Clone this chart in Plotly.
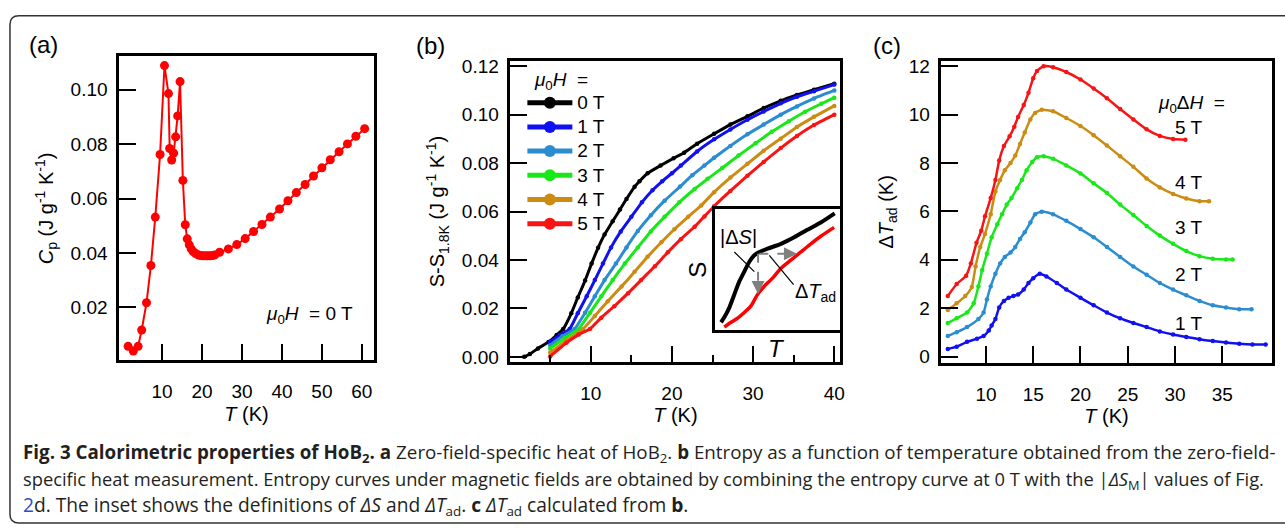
import plotly.graph_objects as go

W, H = 1285, 531
def PX(x): return x / W
def PY(y): return 1 - y / H

FONT = "Liberation Sans, Arial, sans-serif"

# ---------------- data: panel (a) ----------------
a_T = [1.5, 2.8, 4.0, 4.9, 6.1, 7.2, 8.3, 9.5, 10.6, 11.6, 11.9, 12.4, 12.9, 13.4, 13.9, 14.5,
       15.2, 15.8, 16.3, 16.8, 17.3, 17.8, 18.4, 19.0, 19.6, 20.2, 20.8, 21.4, 22.0, 22.6,
       23.2, 24.4, 26.6, 28.7, 30.8, 32.9, 35.0, 37.1, 39.4, 41.5, 43.6, 45.8, 47.9, 50.0,
       52.1, 54.3, 56.4, 58.5, 60.7]
a_Cp = [0.0057, 0.0040, 0.0057, 0.0117, 0.0217, 0.0354, 0.0532, 0.0762, 0.1089, 0.0986, 0.0784,
        0.0742, 0.0767, 0.0827, 0.0904, 0.1030, 0.0667, 0.0504, 0.0452, 0.0430, 0.0415, 0.0405,
        0.0398, 0.0393, 0.0391, 0.0390, 0.0390, 0.0390, 0.0390, 0.0391, 0.0393, 0.0403, 0.0415,
        0.0431, 0.0453, 0.0479, 0.0505, 0.0532, 0.0562, 0.0592, 0.0622, 0.0652, 0.0683, 0.0713,
        0.0743, 0.0772, 0.0801, 0.0829, 0.0857]

# ---------------- data: panel (b) ----------------
b_labels = ["0 T", "1 T", "2 T", "3 T", "4 T", "5 T"]
b_T0 = [1.8, 2.5, 3.5, 4.8, 5.8, 6.6, 7.6, 8.4, 9.3, 10.1, 10.9, 11.7, 12.7, 13.6, 14.4, 15.4,
        16.0, 17.0, 18.6, 20.2, 21.5, 23.1, 25.2, 27.2, 29.3, 31.3, 33.4, 35.4, 37.5, 40.0]
b_S0 = [0.0, 0.0012, 0.0035, 0.0061, 0.0090, 0.0115, 0.0180, 0.0245, 0.0315, 0.0385, 0.0450,
        0.0505, 0.0560, 0.0608, 0.0652, 0.0702, 0.0725, 0.0758, 0.0790, 0.0820, 0.0843, 0.0880,
        0.0921, 0.0959, 0.0993, 0.1027, 0.1057, 0.1081, 0.1103, 0.1128]
b_T1 = [5.0, 6.2, 7.4, 8.4, 9.5, 10.5, 11.5, 12.5, 13.7, 15.0, 16.3, 17.6, 18.8, 20.0, 21.1, 23.1,
        25.2, 27.2, 29.3, 31.3, 33.4, 35.4, 37.5, 40.0]
b_S1 = [0.0062, 0.0090, 0.0115, 0.0180, 0.0250, 0.0317, 0.0385, 0.0452, 0.0518, 0.0578, 0.0638,
        0.0688, 0.0725, 0.0758, 0.0790, 0.0848, 0.0898, 0.0939, 0.0979, 0.1013, 0.1047, 0.1074,
        0.1097, 0.1124]
b_T2 = [5.0, 6.5, 8.0, 9.3, 10.5, 11.7, 13.1, 14.4, 15.8, 17.4, 19.1, 21.0, 22.5, 24.0, 25.2, 27.2,
        29.3, 31.3, 33.4, 35.4, 37.5, 40.0]
b_S2 = [0.0048, 0.0085, 0.0115, 0.0182, 0.0250, 0.0317, 0.0385, 0.0452, 0.0520, 0.0585, 0.0645,
        0.0703, 0.0750, 0.0790, 0.0822, 0.0871, 0.0919, 0.0959, 0.1000, 0.1034, 0.1067, 0.1100]
b_T3 = [5.0, 6.8, 8.5, 9.9, 11.3, 12.7, 14.2, 15.8, 17.4, 19.1, 20.9, 22.8, 24.4, 26.2, 28.2, 30.3,
        32.3, 34.4, 36.4, 38.4, 40.0]
b_S3 = [0.0035, 0.0078, 0.0115, 0.0182, 0.0250, 0.0317, 0.0385, 0.0452, 0.0518, 0.0578, 0.0638,
        0.0693, 0.0735, 0.0780, 0.0831, 0.0882, 0.0929, 0.0973, 0.1012, 0.1045, 0.1070]
b_T4 = [5.0, 7.0, 9.05, 10.5, 12.1, 13.8, 15.4, 17.0, 18.7, 20.3, 22.0, 23.6, 25.2, 27.2, 29.3,
        31.3, 33.4, 35.4, 37.5, 40.0]
b_S4 = [0.0018, 0.0068, 0.0115, 0.0169, 0.0230, 0.0291, 0.0351, 0.0413, 0.0473, 0.0527, 0.0578,
        0.0625, 0.0680, 0.0740, 0.0797, 0.0851, 0.0901, 0.0949, 0.0991, 0.1036]
b_T5 = [5.0, 7.0, 8.5, 9.9, 11.3, 12.9, 14.6, 16.2, 17.9, 19.5, 21.1, 22.8, 24.0, 25.2, 27.2, 29.3,
        31.3, 33.4, 35.4, 37.5, 40.0]
b_S5 = [0.0002, 0.0058, 0.0092, 0.0115, 0.0162, 0.0209, 0.0263, 0.0317, 0.0374, 0.0432, 0.0486,
        0.0537, 0.0580, 0.0622, 0.0685, 0.0748, 0.0805, 0.0862, 0.0912, 0.0957, 0.1000]

# inset (schematic, arbitrary units)
in_T_black = [0.048, 0.074, 0.114, 0.154, 0.194, 0.234, 0.274, 0.314, 0.354, 0.420, 0.527, 0.633,
              0.739, 0.846, 0.957]
in_S_black = [0.067, 0.108, 0.188, 0.296, 0.403, 0.484, 0.565, 0.618, 0.645, 0.672, 0.712, 0.766,
              0.828, 0.887, 0.962]
in_T_red = [0.074, 0.128, 0.181, 0.234, 0.287, 0.340, 0.394, 0.460, 0.527, 0.606, 0.686, 0.766,
            0.846, 0.952]
in_S_red = [0.027, 0.067, 0.102, 0.148, 0.202, 0.296, 0.363, 0.430, 0.511, 0.578, 0.645, 0.712,
            0.774, 0.847]

# ---------------- data: panel (c) ----------------
c_labels = ["1 T", "2 T", "3 T", "4 T", "5 T"]
c_T1 = [5.96, 6.9, 8.0, 9.05, 9.75, 10.3, 10.6, 11.0, 11.4, 11.9, 12.4, 12.9, 13.4, 14.0, 14.5, 15.0,
        15.7, 16.4, 17.5, 18.5, 20.0, 21.4, 22.8, 24.2, 25.6, 27.0, 28.4, 29.8, 31.2, 32.6, 34.0,
        35.4, 36.8, 38.2, 39.6]
c_D1 = [0.31, 0.41, 0.61, 0.74, 0.85, 1.08, 1.28, 1.55, 2.03, 2.30, 2.43, 2.50, 2.57, 2.77, 3.04,
        3.24, 3.42, 3.31, 3.04, 2.77, 2.43, 2.12, 1.82, 1.58, 1.39, 1.22, 1.04, 0.91, 0.81, 0.72,
        0.64, 0.58, 0.53, 0.50, 0.50]
c_T2 = [5.96, 6.9, 8.0, 9.2, 9.75, 10.1, 10.5, 11.0, 11.5, 12.0, 12.6, 13.1, 13.6, 14.1, 14.7, 15.2,
        15.9, 17.1, 18.5, 20.0, 21.4, 22.8, 24.2, 25.6, 27.0, 28.4, 29.8, 31.2, 32.6, 34.0, 35.4,
        36.8, 38.1]
c_D2 = [0.85, 1.01, 1.22, 1.55, 1.82, 2.36, 2.90, 3.42, 3.85, 4.12, 4.30, 4.53, 4.86, 5.14, 5.54,
        5.88, 5.99, 5.88, 5.61, 5.27, 4.93, 4.53, 4.12, 3.72, 3.38, 3.04, 2.77, 2.53, 2.30, 2.12,
        2.03, 1.96, 1.96]
c_T3 = [5.96, 6.9, 8.0, 8.7, 9.2, 9.6, 10.1, 10.6, 11.2, 11.7, 12.2, 12.7, 13.3, 13.8, 14.3, 14.9,
        15.4, 16.1, 17.1, 18.5, 20.0, 21.4, 22.8, 24.2, 25.6, 27.0, 28.4, 29.8, 31.2, 32.6, 34.0,
        35.4, 36.1]
c_D3 = [1.39, 1.58, 1.82, 2.20, 2.90, 3.58, 4.25, 4.93, 5.47, 5.88, 6.28, 6.55, 6.96, 7.30, 7.70,
        8.04, 8.24, 8.28, 8.18, 7.90, 7.57, 7.16, 6.76, 6.28, 5.85, 5.40, 5.00, 4.66, 4.36, 4.15,
        4.04, 4.01, 4.01]
c_T4 = [5.96, 6.9, 7.8, 8.5, 8.9, 9.4, 9.9, 10.5, 11.0, 11.5, 12.0, 12.6, 13.1, 13.6, 14.1, 14.7,
        15.2, 15.9, 17.1, 18.5, 20.0, 21.4, 22.8, 24.2, 25.6, 27.0, 28.4, 29.8, 31.2, 32.6, 33.6]
c_D4 = [1.93, 2.20, 2.50, 2.88, 3.72, 4.53, 5.07, 5.88, 6.82, 7.30, 7.70, 8.00, 8.31, 8.78, 9.26,
        9.80, 10.07, 10.20, 10.14, 9.86, 9.53, 9.15, 8.72, 8.28, 7.84, 7.36, 6.99, 6.72, 6.53,
        6.42, 6.42]
c_T5 = [5.96, 6.9, 7.9, 8.4, 9.0, 9.5, 9.9, 10.5, 11.0, 11.4, 11.9, 12.5, 13.0, 13.4, 14.0, 14.5,
        15.0, 15.4, 16.1, 17.1, 18.5, 20.0, 21.4, 22.8, 24.2, 25.6, 27.0, 28.4, 29.8, 31.1]
c_D5 = [2.50, 3.00, 3.34, 3.85, 4.70, 5.20, 5.80, 6.55, 7.30, 8.10, 8.70, 9.10, 9.50, 9.90, 10.40,
        10.90, 11.50, 11.80, 12.00, 11.96, 11.76, 11.45, 11.08, 10.68, 10.23, 9.80, 9.39, 9.12,
        8.99, 8.96]

COLORS = ["#000000", "#1010f0", "#2b8dd0", "#18e818", "#cc8c14", "#f81414"]

# ---------------- figure ----------------
fig = go.Figure()

fig.add_trace(go.Scatter(x=a_T, y=a_Cp, mode="lines+markers", xaxis="x", yaxis="y",
                         line=dict(color="#ff0000", width=2),
                         marker=dict(color="#ff0000", size=9), showlegend=False))

b_T = [b_T0, b_T1, b_T2, b_T3, b_T4, b_T5]
b_S = [b_S0, b_S1, b_S2, b_S3, b_S4, b_S5]
for i in range(6):
    fig.add_trace(go.Scatter(x=b_T[i], y=b_S[i], mode="lines+markers",
                             name="<span style='font-size:19px'>%s</span>" % b_labels[i],
                             xaxis="x2", yaxis="y2",
                             line=dict(color=COLORS[i], width=3, shape="spline", smoothing=0.4),
                             marker=dict(color=COLORS[i], size=4.5), showlegend=True))

fig.add_trace(go.Scatter(x=in_T_black, y=in_S_black, mode="lines", xaxis="x4", yaxis="y4",
                         line=dict(color="#000000", width=4, shape="spline", smoothing=0.5),
                         showlegend=False))
fig.add_trace(go.Scatter(x=in_T_red, y=in_S_red, mode="lines", xaxis="x4", yaxis="y4",
                         line=dict(color="#ff0000", width=3.5, shape="spline", smoothing=0.5),
                         showlegend=False))

c_T = [c_T1, c_T2, c_T3, c_T4, c_T5]
c_D = [c_D1, c_D2, c_D3, c_D4, c_D5]
for i in range(5):
    fig.add_trace(go.Scatter(x=c_T[i], y=c_D[i], mode="lines+markers", name=c_labels[i],
                             xaxis="x3", yaxis="y3",
                             line=dict(color=COLORS[i + 1], width=2.5, shape="spline", smoothing=0.5),
                             marker=dict(color=COLORS[i + 1], size=4.5), showlegend=False))

axis_common = dict(showline=True, linecolor="black", linewidth=2.5, mirror=True,
                   ticks="inside", tickwidth=2, tickcolor="black", ticklen=17,
                   showgrid=False, zeroline=False,
                   tickfont=dict(family=FONT, size=19, color="black"))

xt = dict(text="<i>T</i> (K)", font=dict(family=FONT, size=20, color="black"), standoff=6)

fig.update_layout(
    width=W, height=H,
    margin=dict(l=0, r=0, t=0, b=0, pad=0),
    paper_bgcolor="white", plot_bgcolor="white",
    font=dict(family=FONT, size=19, color="black"),
    xaxis=dict(axis_common, domain=[PX(119.5), PX(375)], anchor="y", range=[-0.75, 63.0],
               tickvals=[10, 20, 30, 40, 50, 60], ticklabelstandoff=12, title=xt),
    yaxis=dict(axis_common, domain=[PY(362.3), PY(52.3)], anchor="x", range=[0.0005, 0.1123],
               tickvals=[0.02, 0.04, 0.06, 0.08, 0.10], tickformat=".2f", ticklabelstandoff=5,
               title=dict(text="<i>C</i><sub>p</sub> (J g<sup>-1</sup> K<sup>-1</sup>)",
                          font=dict(family=FONT, size=20, color="black"), standoff=12)),
    xaxis2=dict(axis_common, domain=[PX(512), PX(843)], anchor="y2", range=[0.1, 40.75],
                tickvals=[10, 20, 30, 40], ticklabelstandoff=12, title=xt,
                minor=dict(tickvals=[5, 15, 25, 35], ticks="inside", ticklen=8, tickwidth=2,
                           tickcolor="black", showgrid=False)),
    yaxis2=dict(axis_common, domain=[PY(364.3), PY(56.7)], anchor="x2", range=[-0.0023, 0.1223],
                tickvals=[0, 0.02, 0.04, 0.06, 0.08, 0.10, 0.12], tickformat=".2f",
                ticklabelstandoff=5,
                title=dict(text="S-S<sub>1.8K</sub> (J g<sup>-1</sup> K<sup>-1</sup>)",
                           font=dict(family=FONT, size=20, color="black"), standoff=12)),
    xaxis3=dict(axis_common, domain=[PX(944.3), PX(1275.7)], anchor="y3", range=[5.28, 40.24],
                tickvals=[10, 15, 20, 25, 30, 35], ticklabelstandoff=12, title=xt),
    yaxis3=dict(axis_common, domain=[PY(365), PY(56.7)], anchor="x3", range=[-0.27, 12.23],
                tickvals=[0, 2, 4, 6, 8, 10, 12], ticklabelstandoff=5,
                title=dict(text="Δ<i>T</i><sub>ad</sub> (K)",
                           font=dict(family=FONT, size=20, color="black"), standoff=10)),
    xaxis4=dict(domain=[PX(717.3), PX(842.7)], anchor="y4", range=[0, 1], showline=True,
                linecolor="black", linewidth=2.5, mirror=True, ticks="", showticklabels=False,
                showgrid=False, zeroline=False),
    yaxis4=dict(domain=[PY(331.7), PY(207.7)], anchor="x4", range=[0, 1], showline=True,
                linecolor="black", linewidth=2.5, mirror=True, ticks="", showticklabels=False,
                showgrid=False, zeroline=False),
    legend=dict(x=PX(524), y=PY(57), xanchor="left", yanchor="top", bgcolor="rgba(0,0,0,0)",
                font=dict(family=FONT, size=16.3, color="black"), itemsizing="constant",
                itemwidth=45, tracegroupgap=0,
                title=dict(text="&nbsp;&nbsp;<i>μ</i><sub>0</sub><i>H</i>  =",
                           font=dict(family=FONT, size=19, color="black"))),
)

ann = []
def text(x, y, s, size=19, xanchor="center", yanchor="middle", color="black", family=FONT,
         textangle=0):
    ann.append(dict(x=PX(x), y=PY(y), xref="paper", yref="paper", text=s, showarrow=False,
                    xanchor=xanchor, yanchor=yanchor, textangle=textangle,
                    font=dict(family=family, size=size, color=color)))

# panel labels
text(44, 40, "(a)", size=24)
text(432, 41, "(b)", size=24)
text(890, 41, "(c)", size=24)
# panel (a) field label
text(356, 316, "<i>μ</i><sub>0</sub><i>H</i>  = 0 T", xanchor="right")
# panel (c) labels
text(1160, 101, "<i>μ</i><sub>0</sub>Δ<i>H</i>  =", xanchor="left")
for lab, yy in zip(["5 T", "4 T", "3 T", "2 T", "1 T"], [125, 181, 227, 275, 325]):
    text(1193, yy, lab)
# inset texts
text(741, 236, "|Δ<i>S</i>|", size=20)
text(818, 293, "Δ<i>T</i><sub>ad</sub>", size=20)
text(700, 270, "S", size=24, textangle=-90)
text(779, 350, "<i>T</i>", size=24)

# caption
CAP = "Open Sans, sans-serif"
capc = "#231f20"
text(21, 457, "<b>Fig. 3 Calorimetric properties of HoB<sub>2</sub>.</b> <b>a</b> Zero-field-specific heat of "
     "HoB<sub>2</sub>. <b>b</b> Entropy as a function of temperature obtained from the zero-field-",
     size=18.8, xanchor="left", color=capc, family=CAP)
text(21, 484, "specific heat measurement. Entropy curves under magnetic fields are obtained by combining the "
     "entropy curve at 0 T with the |<i>ΔS</i><sub>M</sub>| values of Fig.",
     size=18.3, xanchor="left", color=capc, family=CAP)
text(21, 510, "<span style='color:#2a50c8'>2</span>d. The inset shows the definitions of <i>ΔS</i> and "
     "<i>ΔT</i><sub>ad</sub>. <b>c</b> <i>ΔT</i><sub>ad</sub> calculated from <b>b</b>.",
     size=19.2, xanchor="left", color=capc, family=CAP)

# inset arrows (dashed lines + heads) and leader lines, in inset data units
kx, ky = in_T_black[7] + 0.03, in_S_black[7] + 0.012
shapes = [
    dict(type="line", xref="x4", yref="y4", x0=kx, y0=ky, x1=kx, y1=0.36,
         line=dict(color="#808080", width=2, dash="dash")),
    dict(type="line", xref="x4", yref="y4", x0=kx + 0.01, y0=ky, x1=0.60, y1=ky,
         line=dict(color="#808080", width=2, dash="dash")),
    dict(type="line", xref="x4", yref="y4", x0=0.154, y0=0.645, x1=0.314, y1=0.484,
         line=dict(color="black", width=1.2)),
    dict(type="line", xref="x4", yref="y4", x0=0.628, y0=0.376, x1=0.434, y1=0.618,
         line=dict(color="black", width=1.2)),
]
ann.append(dict(x=kx, y=0.30, ax=kx, ay=0.37, xref="x4", yref="y4", axref="x4", ayref="y4",
                text="", showarrow=True, arrowhead=2, arrowsize=1.3, arrowwidth=2,
                arrowcolor="#808080"))
ann.append(dict(x=0.655, y=ky, ax=0.59, ay=ky, xref="x4", yref="y4", axref="x4", ayref="y4",
                text="", showarrow=True, arrowhead=2, arrowsize=1.3, arrowwidth=2,
                arrowcolor="#808080"))

# outer rounded frame
l, t, b, r = PX(10), PY(11), PY(528), 1.02
rx, ry = 9 / W, 9 / H
frame = (f"M {r},{t} L {l + rx},{t} Q {l},{t} {l},{t - ry} L {l},{b + ry} "
         f"Q {l},{b} {l + rx},{b} L {r},{b}")
shapes.append(dict(type="path", xref="paper", yref="paper", path=frame,
                   line=dict(color="#333333", width=1.5)))

fig.update_layout(annotations=ann, shapes=shapes)

fig.write_html("out.html", config={"displayModeBar": False},
               post_script="document.body.style.margin='0';document.body.style.overflow='hidden';")
